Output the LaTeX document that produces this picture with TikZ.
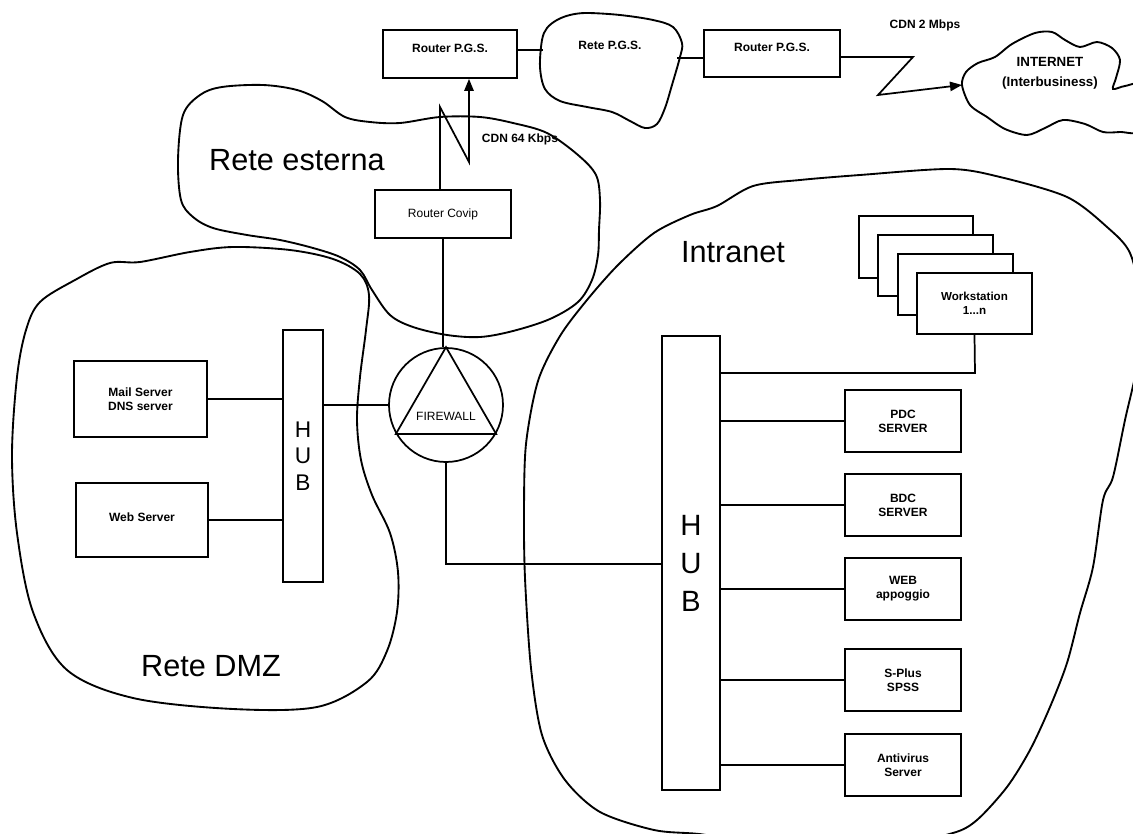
\documentclass[tikz,border=0pt]{standalone}
\usepackage{fontspec}
\setmainfont{Liberation Sans}
\usetikzlibrary{arrows.meta}

\begin{document}
\begin{tikzpicture}[x=0.75pt,y=0.75pt,yscale=-1,xscale=1,
  line width=1.3pt,
  box/.style={draw, rectangle, fill=white, inner sep=1pt, align=center, font=\fontsize{9}{10.5}\selectfont\bfseries},
  srv/.style={box, minimum width=87pt, minimum height=46.5pt},
  wsbox/.style={box, minimum width=86pt, minimum height=46pt},
  hubbox/.style={draw, rectangle, inner sep=0pt, align=center},
  lbl/.style={inner sep=0.75pt, align=center, font=\fontsize{9}{10.5}\selectfont\bfseries},
  netname/.style={inner sep=0.75pt, font=\fontsize{23}{27}\selectfont},
  cloud/.style={line width=1.4pt},
  arr/.style={-{Triangle[length=9pt,width=7pt]}}
]
\useasboundingbox (0,0) rectangle (1133,834);
\clip (0,0) rectangle (1133,834);

%Shape: Cloud Rete P.G.S.
\draw [cloud] plot [smooth cycle, tension=0.55] coordinates {(542,40) (547,28) (557,20) (570,15) (587,13) (620,15) (653,20) (673,27) (682,43) (680,57) (672,85) (665,108) (657,124) (645,128) (630,121) (612,112) (587,107) (560,101) (545,89) (540,67)};
%Shape: Cloud Internet
\draw [cloud] plot [smooth cycle, tension=0.5] coordinates {(962,85) (966,72) (978,63) (995,57) (1012,44) (1035,33) (1052,32) (1065,40) (1080,47) (1097,42) (1112,48) (1120,60) (1116,78) (1113,89) (1125,86) (1142,86) (1142,130) (1120,132) (1103,132) (1085,124) (1063,120) (1045,128) (1027,135) (1005,129) (987,117) (970,105)};
%Shape: Cloud Rete esterna
\draw [cloud] plot [smooth cycle, tension=0.55] coordinates {(178,160) (183,115) (200,95) (222,87) (263,85) (297,90) (322,101) (345,117) (370,122) (400,123) (440,117) (480,117) (513,123) (547,133) (578,155) (596,175) (600,200) (599,230) (598,255) (592,280) (578,302) (550,319) (513,331) (480,337) (447,335) (413,327) (390,315) (372,290) (360,270) (340,257) (313,248) (280,240) (247,235) (213,228) (193,217) (181,200)};
%Shape: Cloud Rete DMZ
\draw [cloud] plot [smooth cycle, tension=0.55] coordinates {(40,302) (75,280) (110,263) (140,262) (190,252) (233,247) (290,250) (333,259) (360,274) (369,295) (366,330) (360,377) (357,420) (361,460) (372,495) (390,533) (398,572) (397,612) (387,651) (367,682) (317,707) (233,709) (133,698) (67,670) (33,612) (17,533) (12,455) (17,377) (26,330)};
%Shape: Cloud Intranet
\draw [cloud] plot [smooth cycle, tension=0.5] coordinates {(717,206) (753,186) (800,180) (860,175) (950,169) (1000,177) (1067,197) (1107,227) (1130,253) (1140,300) (1138,360) (1125,420) (1113,477) (1103,500) (1093,567) (1080,613) (1067,663) (1050,707) (1030,750) (1007,787) (977,820) (953,833) (900,842) (760,842) (699,834) (654,830) (600,812) (565,780) (542,735) (531,668) (525,578) (524,511) (526,444) (538,381) (560,336) (587,300) (618,265) (654,233) (690,215)};

%Shape: Rectangle routers
\node [box, minimum width=100.5pt, minimum height=36pt, text depth=9pt] (rpgs1) at (450,54) {Router P.G.S.};
\node [box, minimum width=102pt, minimum height=35pt, text depth=9pt] (rpgs2) at (772,53.5) {Router P.G.S.};
\node [box, minimum width=102pt, minimum height=36pt, font=\fontsize{9}{10.5}\selectfont] (covip) at (443,214) {Router Covip};

%Shape: Circle firewall
\node [draw, circle, minimum size=85.5pt, inner sep=0pt, text height=24pt, font=\fontsize{9}{10.5}\selectfont] (fw) at (446,405) {FIREWALL};
\draw (fw.90) -- (fw.-30) -- (fw.210) -- cycle;

%Shape: Rectangle DMZ
\node [box, minimum width=100pt, minimum height=57pt] (mail) at (140.5,399) {Mail Server\\DNS server};
\node [box, minimum width=99pt, minimum height=56pt, text depth=5pt] (web) at (142,520) {Web Server};
\node [hubbox, minimum width=30pt, minimum height=189pt, font=\fontsize{17}{20}\selectfont] (dmzhub) at (303,456) {H\\U\\B};

%Shape: Rectangle Intranet
\node [hubbox, minimum width=43.5pt, minimum height=340.5pt, font=\fontsize{22}{28.5}\selectfont] (lanhub) at (691,563) {H\\U\\B};
\node [wsbox] (ws1) at (916,247) {};
\node [wsbox] (ws2) at (935.5,265.5) {};
\node [wsbox] (ws3) at (955.5,284.5) {};
\node [wsbox, font=\fontsize{8.7}{10.5}\selectfont\bfseries] (ws) at (974.5,303.5) {Workstation\\1...n};
\node [srv] (pdc) at (903,421) {PDC\\SERVER};
\node [srv] (bdc) at (903,505) {BDC\\SERVER};
\node [srv] (webapp) at (903,589) {WEB\\appoggio};
\node [srv] (splus) at (903,680) {S-Plus\\SPSS};
\node [srv] (antiv) at (903,765) {Antivirus\\Server};

% Connectors
\coordinate (pgsW) at (543,50);
\coordinate (pgsE) at (677,58);
\coordinate (zz1) at (913,57);
\coordinate (zz2) at (878,95);
\coordinate (inetW) at (962,85);
\coordinate (cv1) at (440,107);
\coordinate (cv2) at (469,162);
\coordinate (fwjoin) at (446,564);
\coordinate (wsjoin) at (975,373);

\draw (rpgs1.east |- pgsW) -- (pgsW);
\draw (pgsE) -- (rpgs2.west |- pgsE);
\draw [arr] (rpgs2.east |- zz1) -- (zz1) -- (zz2) -- (inetW);
\draw [arr] (covip.north -| cv1) -- (cv1) -- (cv2) -- (cv2 |- rpgs1.south);
\draw (covip.south) -- (covip.south |- fw.north);
\draw (dmzhub.east |- fw.west) -- (fw.west);
\draw (mail.east) -- (mail.east -| dmzhub.west);
\draw (web.east) -- (web.east -| dmzhub.west);
\draw (fw.south) -- (fwjoin) -- (lanhub.west |- fwjoin);
\draw (ws.south) -- (wsjoin) -- (lanhub.east |- wsjoin);
\foreach \s in {pdc,bdc,webapp,splus,antiv}
  \draw (lanhub.east |- \s.west) -- (\s.west);

% Text Node
\node [lbl] (pgsname) at (610,45) {Rete P.G.S.};
% Text Node
\node [lbl, font=\fontsize{10}{15}\selectfont\bfseries] (inetname) at (1050,73) {INTERNET\\(Interbusiness)};
% Text Node
\node [lbl] (cdn2) at (925,25) {CDN 2 Mbps};
% Text Node
\node [lbl] (cdn64) at (520,139) {CDN 64 Kbps};
% Text Node
\node [netname] (esterna) at (297,160) {Rete esterna};
% Text Node
\node [netname] (dmz) at (211,666) {Rete DMZ};
% Text Node
\node [netname] (intranet) at (733,252) {Intranet};

\end{tikzpicture}
\end{document}
